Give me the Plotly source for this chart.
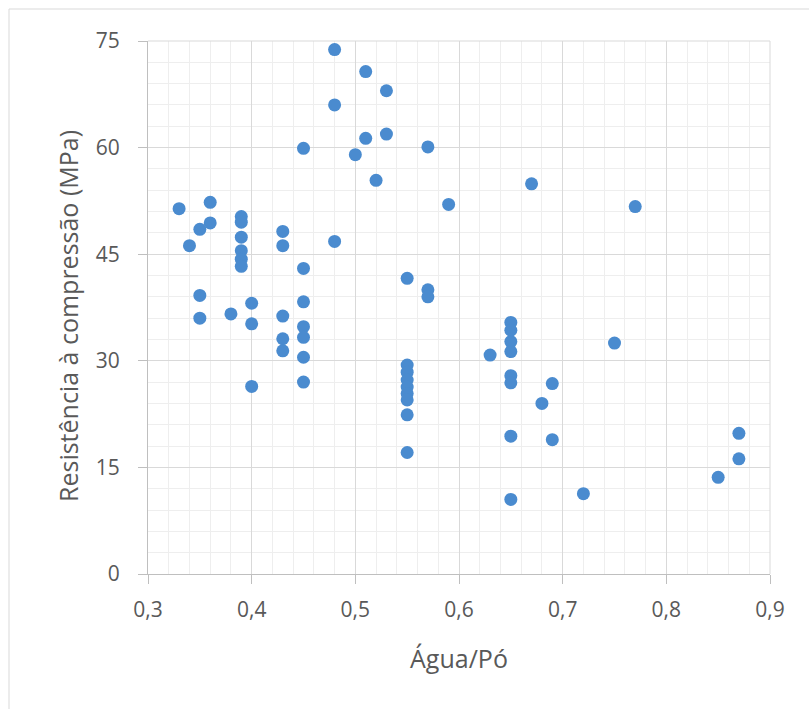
import plotly.graph_objects as go

# Water/powder ratio and compressive strength (MPa), grouped by ratio
agua_po = (
    [0.33]
    + [0.34]
    + [0.35] * 3
    + [0.36] * 2
    + [0.38]
    + [0.39] * 6
    + [0.40] * 3
    + [0.43] * 5
    + [0.45] * 7
    + [0.48] * 3
    + [0.50]
    + [0.51] * 2
    + [0.52]
    + [0.53] * 2
    + [0.55] * 9
    + [0.57] * 3
    + [0.59]
    + [0.63]
    + [0.65] * 8
    + [0.67]
    + [0.68]
    + [0.69] * 2
    + [0.72]
    + [0.75]
    + [0.77]
    + [0.85]
    + [0.87] * 2
)
resistencia = [
    51.4,
    46.2,
    48.5, 39.2, 36.0,
    52.3, 49.4,
    36.6,
    50.3, 49.5, 47.4, 45.5, 44.3, 43.3,
    38.1, 35.2, 26.4,
    48.2, 46.2, 36.3, 33.1, 31.4,
    59.9, 43.0, 38.3, 34.8, 33.3, 30.5, 27.0,
    73.8, 66.0, 46.8,
    59.0,
    70.7, 61.3,
    55.4,
    68.0, 61.9,
    41.6, 29.4, 28.4, 27.3, 26.3, 25.4, 24.5, 22.4, 17.1,
    60.1, 40.0, 39.0,
    52.0,
    30.8,
    35.4, 34.3, 32.7, 31.3, 27.9, 26.9, 19.4, 10.5,
    54.9,
    24.0,
    26.8, 18.9,
    11.3,
    32.5,
    51.7,
    13.6,
    19.8, 16.2,
]

x_ticks = [0.3, 0.4, 0.5, 0.6, 0.7, 0.8, 0.9]
y_ticks = [0, 15, 30, 45, 60, 75]

x_title = "Água/Pó"
y_title = "Resistência à compressão (MPa)"

W, H = 809, 709
L, R, T, B = 148, 39, 41, 135
plot_w = W - L - R
plot_h = H - T - B

def px_to_paper_x(px):
    return (px - L) / plot_w

def px_to_paper_y(py):
    return (H - B - py) / plot_h

text_color = "#595959"
font_family = "Open Sans, Noto Sans, sans-serif"

fig = go.Figure(
    go.Scatter(
        x=agua_po,
        y=resistencia,
        mode="markers",
        marker=dict(size=13, color="#4A8BCF", line=dict(width=0)),
        hoverinfo="x+y",
    )
)

axis_common = dict(
    showline=True,
    linecolor="#BFBFBF",
    linewidth=1,
    ticks="outside",
    ticklen=9,
    tickcolor="#BFBFBF",
    tickwidth=1,
    gridcolor="#D9D9D9",
    gridwidth=1,
    zeroline=False,
    tickfont=dict(size=21, color=text_color, family=font_family),
    mirror=False,
)

fig.update_xaxes(
    **axis_common,
    range=[0.3, 0.9],
    tickvals=x_ticks,
    tickformat=".1f",
    ticklabelstandoff=8,
    minor=dict(dtick=0.02, tick0=0.3, showgrid=True, gridcolor="#EEEEEE", gridwidth=1, ticks=""),
    title=dict(text=x_title, font=dict(size=25, color=text_color, family=font_family), standoff=28),
)
fig.update_yaxes(
    **axis_common,
    range=[0, 75],
    tickvals=y_ticks,
    ticklabelstandoff=14,
    minor=dict(dtick=3, tick0=0, showgrid=True, gridcolor="#EEEEEE", gridwidth=1, ticks=""),
)

# Vertical axis title, placed as a rotated annotation
fig.add_annotation(
    text=y_title,
    xref="paper",
    yref="paper",
    x=px_to_paper_x(68),
    y=px_to_paper_y(316),
    xanchor="center",
    yanchor="middle",
    textangle=-90,
    showarrow=False,
    font=dict(size=25, color=text_color, family=font_family),
)

# Chart-area frame
fig.add_shape(
    type="rect",
    xref="paper",
    yref="paper",
    x0=px_to_paper_x(9),
    y0=px_to_paper_y(H + 5),
    x1=px_to_paper_x(W + 5),
    y1=px_to_paper_y(9),
    line=dict(color="#D9D9D9", width=1),
    fillcolor="rgba(0,0,0,0)",
    layer="below",
)

# Right and top border of the plot area drawn as grid-coloured lines
fig.add_shape(type="line", xref="paper", yref="paper", x0=1, x1=1, y0=0, y1=1,
              line=dict(color="#D9D9D9", width=1))
fig.add_shape(type="line", xref="paper", yref="paper", x0=0, x1=1, y0=1, y1=1,
              line=dict(color="#D9D9D9", width=1))

fig.update_layout(
    width=W,
    height=H,
    margin=dict(l=L, r=R, t=T, b=B, autoexpand=False),
    paper_bgcolor="white",
    plot_bgcolor="white",
    separators=",.",
    showlegend=False,
    font=dict(family=font_family, color=text_color),
)

fig.write_html("out.html")
